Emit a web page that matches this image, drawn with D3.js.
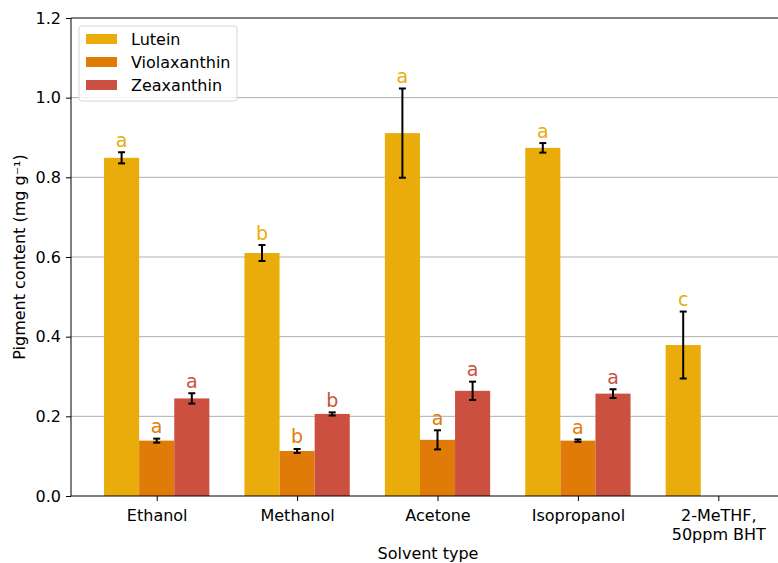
<!DOCTYPE html>
<html><head><meta charset="utf-8">
<script src="https://cdn.jsdelivr.net/npm/d3@7"></script>
<style>body{margin:0;background:#fff}svg{display:block;font-family:"DejaVu Sans",sans-serif}</style>
</head><body>
<svg id="c" width="778" height="563"></svg>
<script>
const categories = ["Ethanol","Methanol","Acetone","Isopropanol","2-MeTHF,\n50ppm BHT"];
const seriesNames = ["Lutein","Violaxanthin","Zeaxanthin"];
const colors = ["#EAAC0B","#E07B07","#CC5040"];
const lutein = [0.849,0.610,0.911,0.874,0.379];
const luteinErr = [0.014,0.020,0.112,0.012,0.084];
const luteinLetters = ["a","b","a","a","c"];
const violaxanthin = [0.139,0.113,0.141,0.139,null];
const violaxanthinErr = [0.005,0.005,0.024,0.003,null];
const violaxanthinLetters = ["a","b","a","a",null];
const zeaxanthin = [0.245,0.206,0.264,0.257,null];
const zeaxanthinErr = [0.013,0.004,0.023,0.011,null];
const zeaxanthinLetters = ["a","b","a","a",null];
const yTicks = [0.0,0.2,0.4,0.6,0.8,1.0,1.2];

const values=[lutein,violaxanthin,zeaxanthin];
const errs=[luteinErr,violaxanthinErr,zeaxanthinErr];
const letters=[luteinLetters,violaxanthinLetters,zeaxanthinLetters];

const FS=16;
const svg=d3.select("#c");
const L=71,R=778,T=18,B=496;
const y=d3.scaleLinear().domain([0,1.2]).range([B,T]);
const x=d3.scaleLinear().domain([0,4]).range([156.7,718.3]);
const step=x(1)-x(0), bw=step*0.25;

// grid
svg.append("g").selectAll("line").data(yTicks.slice(1,-1)).join("line")
 .attr("x1",L).attr("x2",R).attr("y1",d=>y(d)).attr("y2",d=>y(d))
 .attr("stroke","#b0b0b0").attr("stroke-width",1);

// bars
values.forEach((vals,s)=>{
  const g=svg.append("g");
  vals.forEach((v,i)=>{
    if(v==null) return;
    const cx=x(i)+(s-1)*bw;
    g.append("rect").attr("x",cx-bw/2).attr("width",bw).attr("y",y(v)).attr("height",y(0)-y(v)).attr("fill",colors[s]);
  });
});
// error bars & letters
values.forEach((vals,s)=>{
  vals.forEach((v,i)=>{
    if(v==null) return;
    const cx=x(i)+(s-1)*bw, e=errs[s][i];
    const g=svg.append("g").attr("stroke","#000").attr("stroke-width",2);
    g.append("line").attr("x1",cx).attr("x2",cx).attr("y1",y(v+e)).attr("y2",y(v-e));
    g.append("line").attr("x1",cx-3.5).attr("x2",cx+3.5).attr("y1",y(v+e)).attr("y2",y(v+e));
    g.append("line").attr("x1",cx-3.5).attr("x2",cx+3.5).attr("y1",y(v-e)).attr("y2",y(v-e));
    svg.append("text").attr("x",cx).attr("y",y(v+e)-5.5).attr("text-anchor","middle")
      .attr("font-size",19).attr("fill",colors[s]).text(letters[s][i]);
  });
});

// axes
const ya=svg.append("g").attr("transform",`translate(${L},0)`)
 .call(d3.axisLeft(y).tickValues(yTicks).tickFormat(d3.format(".1f")).tickSizeOuter(0).tickSize(5));
ya.select(".domain").remove();
ya.selectAll("text").attr("font-size",FS).attr("fill","#000").attr("font-family","DejaVu Sans").attr("x",-10);
ya.selectAll("line").attr("stroke","#000");

const xa=svg.append("g").attr("transform",`translate(0,${B})`)
 .call(d3.axisBottom(x).tickValues(d3.range(categories.length)).tickFormat("").tickSize(5).tickSizeOuter(0));
xa.select(".domain").remove();
xa.selectAll("line").attr("stroke","#000");
xa.selectAll(".tick").each(function(d){
  const t=d3.select(this).append("text").attr("fill","#000").attr("font-size",FS).attr("text-anchor","middle").attr("font-family","DejaVu Sans");
  categories[d].split("\n").forEach((ln,k)=>t.append("tspan").attr("x",0).attr("y",25+k*18.5).text(ln));
});

// spines
svg.append("line").attr("x1",L).attr("x2",L).attr("y1",T).attr("y2",B).attr("stroke","#000").attr("stroke-width",1);
svg.append("line").attr("x1",L).attr("x2",R).attr("y1",B).attr("y2",B).attr("stroke","#000").attr("stroke-width",1);
svg.append("line").attr("x1",L).attr("x2",R).attr("y1",T).attr("y2",T).attr("stroke","#000").attr("stroke-width",1);

// labels
svg.append("text").attr("x",428).attr("y",559).attr("text-anchor","middle").attr("font-size",FS).text("Solvent type");
svg.append("text").attr("transform","translate(25,257) rotate(-90)").attr("text-anchor","middle").attr("font-size",FS)
 .text("Pigment content (mg g\u207B\u00B9)");

// legend
const lg=svg.append("g").attr("transform","translate(79,26)");
lg.append("rect").attr("width",158).attr("height",75).attr("rx",3).attr("fill","#fff").attr("fill-opacity",0.8).attr("stroke","#d6d6d6");
seriesNames.forEach((n,k)=>{
  lg.append("rect").attr("x",7).attr("y",8+k*23).attr("width",31).attr("height",10).attr("fill",colors[k]);
  lg.append("text").attr("x",52).attr("y",19+k*23).attr("font-size",FS).text(n);
});
</script>
</body></html>
